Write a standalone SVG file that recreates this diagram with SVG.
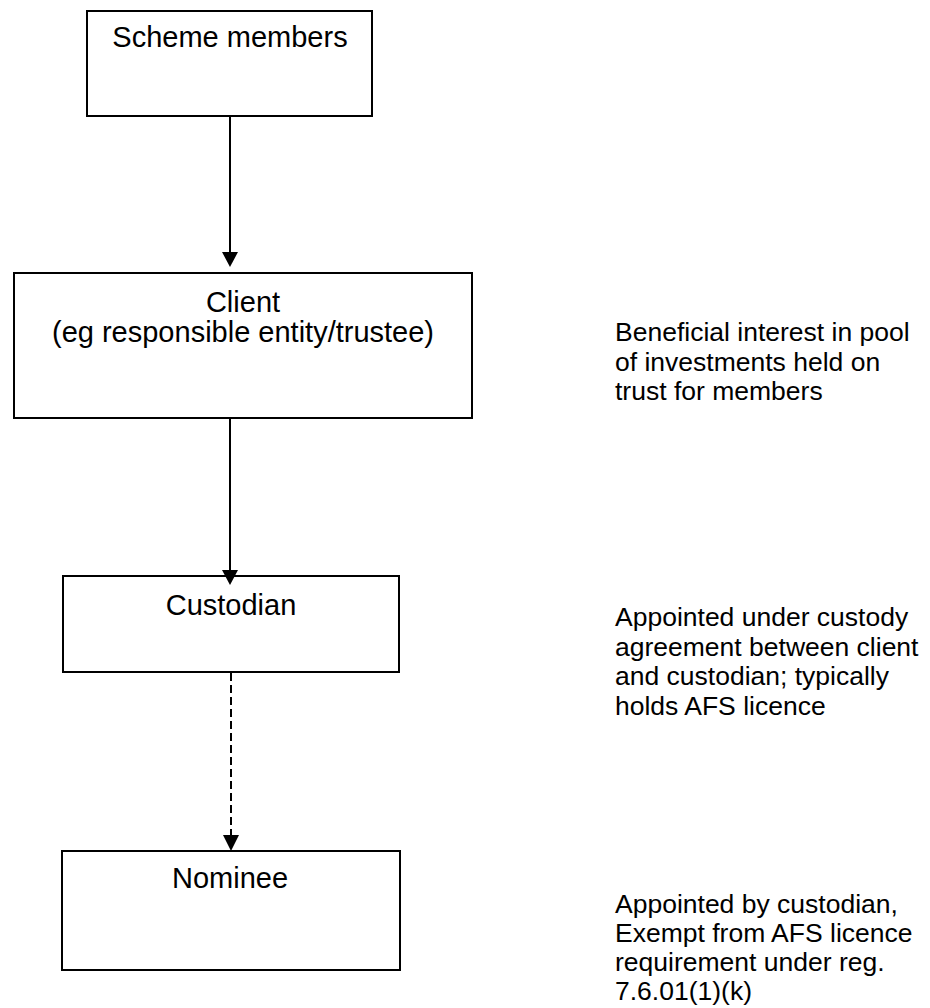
<svg xmlns="http://www.w3.org/2000/svg" width="930" height="1008" viewBox="0 0 930 1008">
<style>
.box{fill:#fff;stroke:#000;stroke-width:2}
.t{font-family:"Liberation Sans",Arial,sans-serif;font-size:29px;fill:#000}
.n{font-family:"Liberation Sans",Arial,sans-serif;font-size:26.5px;fill:#000}
.c{text-anchor:middle}
.ln{stroke:#000;stroke-width:2;fill:none}
.dash{stroke-dasharray:8 4}
.head{fill:#000}
</style>
<rect x="0" y="0" width="930" height="1008" fill="#fff"/>
<g id="scheme-members">
<rect class="box" x="87" y="11" width="285" height="105"/>
<text class="t c" x="230" y="47">Scheme members</text>
</g>
<g id="client">
<rect class="box" x="14" y="273" width="458" height="145"/>
<text class="t c" x="243" y="312">Client</text>
<text class="t c" x="243" y="342">(eg responsible entity/trustee)</text>
</g>
<g id="custodian">
<rect class="box" x="63" y="576" width="336" height="96"/>
<text class="t c" x="231" y="615">Custodian</text>
</g>
<g id="nominee">
<rect class="box" x="62" y="851" width="338" height="119"/>
<text class="t c" x="230" y="888">Nominee</text>
</g>
<g id="note-client">
<text class="n" x="615" y="341">Beneficial interest in pool</text>
<text class="n" x="615" y="370.5">of investments held on</text>
<text class="n" x="615" y="400">trust for members</text>
</g>
<g id="note-custodian">
<text class="n" x="615" y="626">Appointed under custody</text>
<text class="n" x="615" y="655.5">agreement between client</text>
<text class="n" x="615" y="685">and custodian; typically</text>
<text class="n" x="615" y="714.5">holds AFS licence</text>
</g>
<g id="note-nominee">
<text class="n" x="615" y="913">Appointed by custodian,</text>
<text class="n" x="615" y="942">Exempt from AFS licence</text>
<text class="n" x="615" y="971">requirement under reg.</text>
<text class="n" x="615" y="1000">7.6.01(1)(k)</text>
</g>
<g id="connectors">
<line class="ln" x1="230" y1="117" x2="230" y2="253"/>
<path class="head" d="M222,252 L238,252 L230,267 Z"/>
<line class="ln" x1="230" y1="419" x2="230" y2="571"/>
<path class="head" d="M222,570 L238,570 L230,585 Z"/>
<line class="ln dash" x1="231" y1="673" x2="231" y2="836"/>
<path class="head" d="M223,835 L239,835 L231,851 Z"/>
</g>
</svg>
